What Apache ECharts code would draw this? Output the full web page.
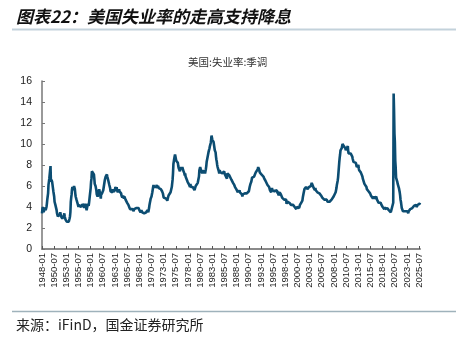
<!DOCTYPE html>
<html>
<head>
<meta charset="utf-8">
<script src="https://cdn.jsdelivr.net/npm/echarts@6/dist/echarts.min.js"></script>
<style>
html,body{margin:0;padding:0;background:#fff;}
#chart{width:456px;height:342px;}
</style>
</head>
<body>
<div id="chart"></div>
<script>
// ---- data ----
const titleText = '图表22：美国失业率的走高支持降息';
const seriesName = '美国:失业率:季调';
const sourceText = '来源：iFinD，国金证券研究所';
const startYear = 1948;
const yMin = 0, yMax = 16, yStep = 2;
const labelEvery = 30; // months between x labels (1948-01, 1950-07, ...)

// monthly values, 1948-01 onward
const unemploymentRate = [
3.4,3.8,4.0,3.9,3.5,3.6,3.6,3.9,3.8,3.7,3.8,4.0,
4.3,4.7,5.0,5.3,6.1,6.2,6.7,6.8,6.6,7.9,6.4,6.6,
6.5,6.4,6.3,5.8,5.5,5.4,5.0,4.5,4.4,4.2,4.2,4.3,
3.7,3.4,3.4,3.1,3.0,3.2,3.1,3.1,3.3,3.5,3.5,3.1,
3.2,3.1,2.9,2.9,3.0,3.0,3.2,3.4,3.1,3.0,2.8,2.7,
2.9,2.6,2.6,2.7,2.5,2.5,2.6,2.7,2.9,3.1,3.5,4.5,
4.9,5.2,5.7,5.9,5.9,5.6,5.8,6.0,6.1,5.7,5.3,5.0,
4.9,4.7,4.6,4.7,4.3,4.2,4.0,4.2,4.1,4.3,4.2,4.2,
4.0,3.9,4.2,4.0,4.3,4.3,4.4,4.1,3.9,3.9,4.3,4.2,
4.2,3.9,3.7,3.9,4.1,4.3,4.2,4.1,4.4,4.5,5.1,5.2,
5.8,6.4,6.7,7.4,7.4,7.3,7.5,7.4,7.1,6.7,6.2,6.2,
6.0,5.9,5.6,5.2,5.1,5.0,5.1,5.2,5.5,5.7,5.8,5.3,
5.2,4.8,5.4,5.2,5.1,5.4,5.5,5.6,5.5,6.1,6.1,6.6,
6.6,6.9,6.9,7.0,7.1,6.9,7.0,6.6,6.7,6.5,6.1,6.0,
5.8,5.5,5.6,5.6,5.5,5.5,5.4,5.7,5.6,5.4,5.7,5.5,
5.7,5.9,5.7,5.7,5.9,5.6,5.6,5.4,5.5,5.5,5.7,5.5,
5.6,5.4,5.4,5.3,5.1,5.2,4.9,5.0,5.1,5.1,4.8,5.0,
4.9,5.1,4.7,4.8,4.6,4.6,4.4,4.4,4.3,4.2,4.1,4.0,
4.0,3.8,3.8,3.8,3.9,3.8,3.8,3.8,3.7,3.7,3.6,3.8,
3.9,3.8,3.8,3.8,3.8,3.9,3.8,3.8,3.8,4.0,3.9,3.8,
3.7,3.8,3.7,3.5,3.5,3.7,3.7,3.5,3.4,3.4,3.4,3.4,
3.4,3.4,3.4,3.4,3.4,3.5,3.5,3.5,3.7,3.7,3.5,3.5,
3.9,4.2,4.4,4.6,4.8,4.9,5.0,5.1,5.4,5.5,5.9,6.1,
5.9,5.9,6.0,5.9,5.9,5.9,6.0,6.1,6.0,5.8,6.0,6.0,
5.8,5.7,5.8,5.7,5.7,5.7,5.6,5.6,5.5,5.6,5.3,5.2,
4.9,5.0,4.9,5.0,4.9,4.9,4.8,4.8,4.8,4.6,4.8,4.9,
5.1,5.2,5.1,5.1,5.1,5.4,5.5,5.5,5.9,6.0,6.6,7.2,
8.1,8.1,8.6,8.8,9.0,8.8,8.6,8.4,8.4,8.4,8.3,8.2,
7.9,7.7,7.6,7.7,7.4,7.6,7.8,7.8,7.6,7.7,7.8,7.8,
7.5,7.6,7.4,7.2,7.0,7.2,6.9,7.0,6.8,6.8,6.8,6.4,
6.4,6.3,6.3,6.1,6.0,5.9,6.2,5.9,6.0,5.8,5.9,6.0,
5.9,5.9,5.8,5.8,5.6,5.7,5.7,6.0,5.9,6.0,5.9,6.0,
6.3,6.3,6.3,6.9,7.5,7.6,7.8,7.7,7.5,7.5,7.5,7.2,
7.5,7.4,7.4,7.2,7.5,7.5,7.2,7.4,7.6,7.9,8.3,8.5,
8.6,8.9,9.0,9.3,9.4,9.6,9.8,9.8,10.1,10.4,10.8,10.8,
10.4,10.4,10.3,10.2,10.1,10.1,9.4,9.5,9.2,8.8,8.5,8.3,
8.0,7.8,7.8,7.7,7.4,7.2,7.5,7.5,7.3,7.4,7.2,7.3,
7.3,7.2,7.2,7.3,7.2,7.4,7.4,7.1,7.1,7.1,7.0,7.0,
6.7,7.2,7.2,7.1,7.2,7.2,7.0,6.9,7.0,7.0,6.9,6.6,
6.6,6.6,6.6,6.3,6.3,6.2,6.1,6.0,5.9,6.0,5.8,5.7,
5.7,5.7,5.7,5.4,5.6,5.4,5.4,5.6,5.4,5.4,5.3,5.3,
5.4,5.2,5.0,5.2,5.2,5.3,5.2,5.2,5.3,5.3,5.4,5.4,
5.4,5.3,5.2,5.4,5.4,5.2,5.5,5.7,5.9,5.9,6.2,6.3,
6.4,6.6,6.8,6.7,6.9,6.9,6.8,6.9,6.9,7.0,7.0,7.3,
7.3,7.4,7.4,7.4,7.6,7.8,7.7,7.6,7.6,7.3,7.4,7.4,
7.3,7.1,7.0,7.1,7.1,7.0,6.9,6.8,6.7,6.8,6.6,6.5,
6.6,6.6,6.5,6.4,6.1,6.1,6.1,6.0,5.9,5.8,5.6,5.5,
5.6,5.4,5.4,5.8,5.6,5.6,5.7,5.7,5.6,5.5,5.6,5.6,
5.6,5.5,5.5,5.6,5.6,5.3,5.5,5.1,5.2,5.2,5.4,5.4,
5.3,5.2,5.2,5.1,4.9,5.0,4.9,4.8,4.9,4.7,4.6,4.7,
4.6,4.6,4.7,4.3,4.4,4.5,4.5,4.5,4.6,4.5,4.4,4.4,
4.3,4.4,4.2,4.3,4.2,4.3,4.3,4.2,4.2,4.1,4.1,4.0,
4.0,4.1,4.0,3.8,4.0,4.0,4.0,4.1,3.9,3.9,3.9,3.9,
4.2,4.2,4.3,4.4,4.3,4.5,4.6,4.9,5.0,5.3,5.5,5.7,
5.7,5.7,5.7,5.9,5.8,5.8,5.8,5.7,5.7,5.7,5.9,6.0,
5.8,5.9,5.9,6.0,6.1,6.3,6.2,6.1,6.1,6.0,5.8,5.7,
5.7,5.6,5.8,5.6,5.6,5.6,5.5,5.4,5.4,5.5,5.4,5.4,
5.3,5.4,5.2,5.2,5.1,5.0,5.0,4.9,5.0,5.0,5.0,4.9,
4.7,4.8,4.7,4.7,4.6,4.6,4.7,4.7,4.5,4.4,4.5,4.4,
4.6,4.5,4.4,4.5,4.4,4.6,4.7,4.6,4.7,4.7,4.7,5.0,
5.0,4.9,5.1,5.0,5.4,5.6,5.8,6.1,6.1,6.5,6.8,7.3,
7.8,8.3,8.7,9.0,9.4,9.5,9.5,9.6,9.8,10.0,9.9,9.9,
9.8,9.8,9.9,9.9,9.6,9.4,9.4,9.5,9.5,9.4,9.8,9.3,
9.1,9.0,9.0,9.1,9.0,9.1,9.0,9.0,9.0,8.8,8.6,8.5,
8.3,8.3,8.2,8.2,8.2,8.2,8.2,8.0,7.8,7.8,7.7,7.9,
8.0,7.7,7.5,7.6,7.5,7.5,7.3,7.2,7.2,7.2,6.9,6.7,
6.6,6.7,6.7,6.2,6.3,6.1,6.2,6.1,5.9,5.7,5.8,5.6,
5.7,5.5,5.4,5.4,5.6,5.3,5.2,5.1,5.0,5.0,5.1,5.0,
4.8,4.9,5.0,5.1,4.8,4.9,4.8,4.9,5.0,4.9,4.7,4.7,
4.7,4.6,4.4,4.4,4.4,4.3,4.3,4.4,4.3,4.2,4.2,4.1,
4.0,4.1,4.0,4.0,3.8,4.0,3.8,3.8,3.7,3.8,3.8,3.9,
4.0,3.8,3.8,3.7,3.6,3.6,3.7,3.6,3.5,3.6,3.6,3.6,
3.5,3.5,4.4,14.8,13.2,11.0,10.2,8.4,7.8,6.8,6.7,6.7,
6.4,6.2,6.1,6.1,5.8,5.9,5.4,5.1,4.7,4.5,4.2,3.9,
4.0,3.8,3.6,3.7,3.6,3.6,3.5,3.6,3.5,3.6,3.6,3.5,
3.5,3.6,3.5,3.4,3.6,3.6,3.5,3.7,3.8,3.9,3.7,3.8,
3.7,3.9,3.9,3.9,4.0,4.1,4.2,4.2,4.1,4.1,4.2,4.1,
4.0,4.1,4.2,4.2,4.2,4.1,4.2,4.3,4.4
];

// month categories "YYYY-MM"
const months = [];
for (let i = 0; i < unemploymentRate.length; i++) {
  const y = startYear + Math.floor(i / 12);
  const m = (i % 12) + 1;
  months.push(y + '-' + (m < 10 ? '0' + m : m));
}

// ---- chart ----
const chart = echarts.init(document.getElementById('chart'), null, {renderer: 'canvas'});
const axisFont = 'Liberation Sans, Arial, sans-serif';
const cjkFont = '"Noto Sans CJK SC", sans-serif';

chart.setOption({
  animation: false,
  backgroundColor: '#ffffff',
  grid: {left: 42, right: 36, top: 81, bottom: 93, containLabel: false},
  legend: {
    data: [{name: seriesName, icon: 'none'}],
    left: 178, top: 52,
    itemWidth: 0, itemHeight: 0,
    textStyle: {fontFamily: cjkFont, fontSize: 10.5, color: '#333'}
  },
  xAxis: {
    type: 'category',
    data: months,
    boundaryGap: false,
    axisLine: {show: true, lineStyle: {color: '#8a8a8a', width: 2}},
    axisTick: {show: true, inside: true, length: 3, interval: labelEvery - 1, lineStyle: {color: '#555', width: 1}},
    axisLabel: {interval: labelEvery - 1, rotate: 90, margin: 4, fontSize: 9.5, color: '#222', fontFamily: axisFont},
    splitLine: {show: false}
  },
  yAxis: {
    type: 'value',
    min: yMin, max: yMax, interval: yStep,
    axisLine: {show: true, lineStyle: {color: '#777', width: 1.5}},
    axisTick: {show: true, inside: true, length: 3, lineStyle: {color: '#777'}},
    axisLabel: {margin: 10, fontSize: 10.5, color: '#222', fontFamily: axisFont},
    splitLine: {show: false}
  },
  series: [{
    name: seriesName,
    type: 'line',
    data: unemploymentRate,
    showSymbol: false,
    symbol: 'none',
    lineStyle: {color: '#0c4d72', width: 2.6},
    itemStyle: {color: '#0c4d72'}
  }],
  graphic: [
    {type: 'text', left: 16, top: 8, style: {text: titleText, fontFamily: cjkFont, fontSize: 17, fontWeight: 'bold', fontStyle: 'italic', fill: '#111'}},
    {type: 'line', shape: {x1: 12, y1: 29.5, x2: 456, y2: 29.5}, style: {stroke: '#c3d2db', lineWidth: 2}},
    {type: 'line', shape: {x1: 12, y1: 311.5, x2: 456, y2: 311.5}, style: {stroke: '#9fb2bb', lineWidth: 1.5}},
    {type: 'text', left: 16, top: 318, style: {text: sourceText, fontFamily: cjkFont, fontSize: 14, fill: '#222'}}
  ]
});
</script>
</body>
</html>
